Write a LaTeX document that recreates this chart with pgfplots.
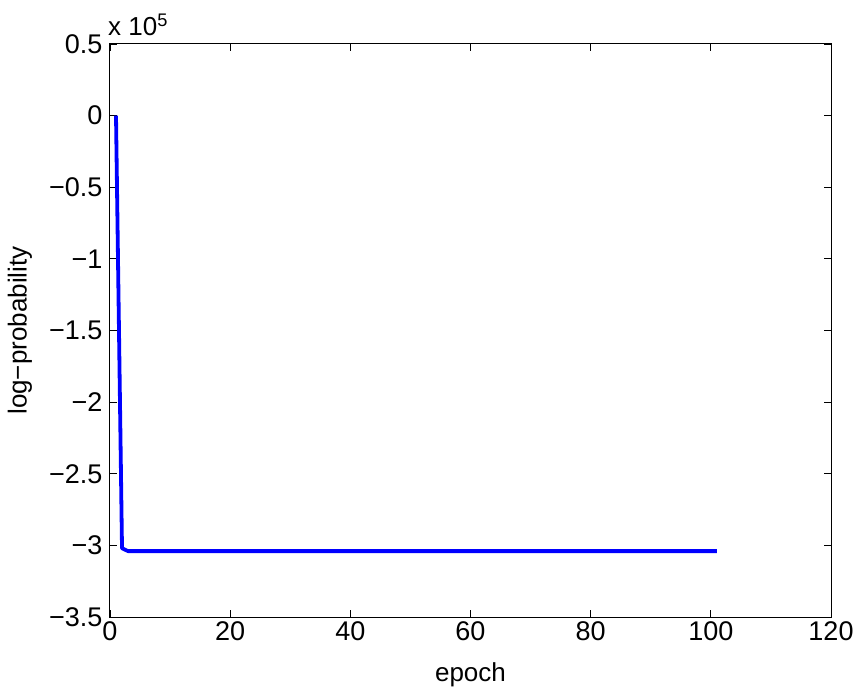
\documentclass[border=0pt]{standalone}
\usepackage{pgfplots}
\pgfplotsset{compat=1.18}
\usepackage{fontspec}
\setmainfont{Liberation Sans}
\begin{document}
\begin{tikzpicture}
\begin{axis}[
  name=ax,
  scale only axis,
  width=721pt, height=573pt,
  xmin=0, xmax=120, ymin=-3.5, ymax=0.5,
  xtick={0,20,40,60,80,100,120},
  xticklabels={0,20,40,60,80,100,120},
  ytick={-3.5,-3,-2.5,-2,-1.5,-1,-0.5,0,0.5},
  yticklabels={−3.5,−3,−2.5,−2,−1.5,−1,−0.5,0,0.5},
  tick align=inside,
  major tick length=7pt,
  tick style={black, line width=0.8pt},
  axis line style={line width=1pt},
  ticklabel style={font=\fontsize{27}{29}\selectfont},
  xticklabel style={yshift=-1pt},
  yticklabel style={xshift=-4pt},
  xlabel={epoch}, ylabel={log−probability},
  label style={font=\fontsize{26}{28}\selectfont},
  xlabel style={at={(axis description cs:0.5,-0.1134)}, anchor=base},
  ylabel style={at={(axis description cs:-0.125,0.5)}, anchor=center},
  clip=false,
]
\addplot[blue, line width=3.8pt, line join=round] coordinates {
  (1,0) (2,-3.02) (3,-3.04) (101,-3.04)
};
\node[anchor=base west, font=\fontsize{26}{28}\selectfont, inner sep=0pt] at (rel axis cs:0,1) [yshift=8pt, xshift=-2pt] {x 10\textsuperscript{5}};
\end{axis}
\pgfresetboundingbox
\path ([xshift=-110pt,yshift=-77pt]ax.south west) rectangle ([xshift=32pt,yshift=44pt]ax.north east);
\end{tikzpicture}
\end{document}
